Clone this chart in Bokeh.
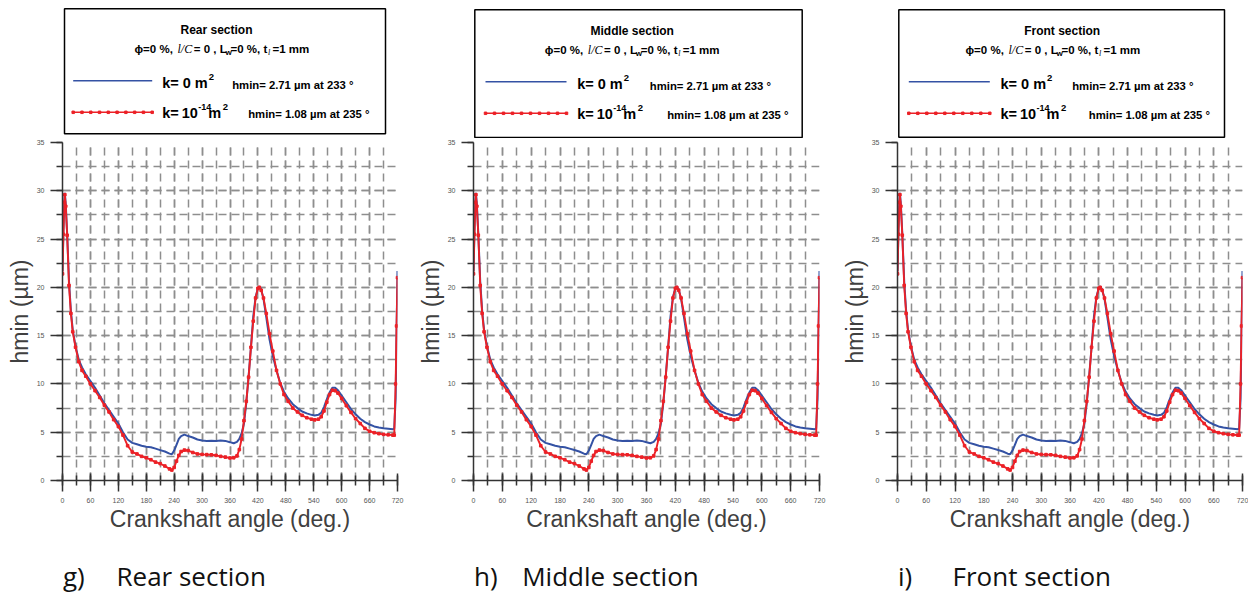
from bokeh.plotting import figure
from bokeh.layouts import row, column
from bokeh.models import Range1d, SingleIntervalTicker
from bokeh.core.properties import value
from bokeh.embed import file_html
from bokeh.resources import INLINE

# ---------------- data ----------------
angle = [0, 2, 4, 5, 7, 10, 14, 18, 22, 28, 35, 42, 50, 60, 70, 80, 90, 100, 110, 120,
         130, 140, 150, 160, 170, 180, 190, 200, 210, 220, 230, 235, 240, 245, 250, 255,
         262, 270, 280, 290, 300, 310, 320, 330, 340, 350, 360, 368, 375, 380, 385, 390,
         395, 400, 405, 410, 415, 420, 423, 427, 432, 438, 445, 452, 460, 468, 476, 485,
         495, 505, 515, 525, 535, 542, 550, 556, 562, 568, 574, 580, 586, 592, 600, 610,
         620, 630, 640, 650, 660, 670, 680, 690, 700, 710, 713, 716, 718, 720]

hmin_k0 = [21.7, 26.0, 29.0, 29.8, 28.6, 25.6, 20.6, 17.6, 15.6, 13.9,
           12.5, 11.7, 11.0, 10.3, 9.6, 8.8, 8.0, 7.3, 6.6, 5.9,
           5.0, 4.25, 3.9, 3.75, 3.6, 3.5, 3.45, 3.3, 3.15, 3.0,
           2.78, 2.72, 3.1, 3.7, 4.3, 4.6, 4.75, 4.6, 4.45, 4.25,
           4.15, 4.1, 4.12, 4.1, 4.15, 4.1, 3.97, 3.86, 4.0, 4.3,
           4.9, 5.9, 8.0, 10.8, 13.8, 17.0, 19.0, 19.9, 20.1, 19.8,
           18.8, 16.9, 14.6, 12.9, 11.4, 10.1, 9.2, 8.5, 7.9, 7.5,
           7.15, 6.95, 6.8, 6.73, 6.8, 7.0, 7.6, 8.4, 9.1, 9.6,
           9.6, 9.35, 8.8, 8.1, 7.4, 6.85, 6.4, 6.05, 5.8, 5.6,
           5.48, 5.4, 5.35, 5.3, 5.4, 8.5, 15.5, 21.7]

hmin_k14 = [21.4, 25.5, 28.8, 29.6, 28.4, 25.4, 20.2, 17.3, 15.4, 13.8,
            12.3, 11.4, 10.8, 10.0, 9.3, 8.6, 7.8, 7.1, 6.3, 5.6,
            4.7, 3.6, 2.95, 2.75, 2.5, 2.35, 2.15, 1.9, 1.75, 1.5,
            1.2, 1.08, 1.35, 2.0, 2.6, 3.0, 3.15, 3.1, 2.9, 2.75,
            2.7, 2.68, 2.66, 2.6, 2.5, 2.42, 2.33, 2.35, 2.55, 3.2,
            4.3, 6.2, 8.2, 10.7, 13.8, 16.5, 18.9, 19.9, 20.0, 19.7,
            18.9, 17.3, 15.2, 13.4, 11.4, 10.0, 8.9, 8.2, 7.5, 7.1,
            6.75, 6.5, 6.35, 6.28, 6.35, 6.6, 7.2, 8.1, 8.9, 9.35,
            9.3, 9.05, 8.5, 7.75, 7.05, 6.4, 5.9, 5.4, 5.1, 4.95,
            4.85, 4.78, 4.73, 4.7, 4.7, 10.0, 16.0, 21.0]

sections = ["Rear section", "Middle section", "Front section"]
caption_tags = ["g)", "h)", "i)"]
note_k0 = "hmin= 2.71 µm at 233  °"
note_k14 = "hmin= 1.08 µm at 235 °"
x_label = "Crankshaft angle (deg.)"
y_label = "hmin (µm)"

BLUE = "#3452a4"
RED = "#ec2127"
GRID = "#8e8e8e"
AXIS = "#333333"

# ---------------- geometry per panel (pixels) ----------------
col_w = [411, 424, 413]
BL = 62                      # left border (frame starts 62 px into each column)
frame_w = [335, 346, 345]
# legend box, relative to frame left / layout top: left, right, top, bottom
box = [(2.0, 323.0, 8.3, 133.3), (1.3, 328.7, 9.3, 137.0), (1.3, 327.0, 9.3, 136.7)]
title_dx = [152, 157.4, 163.4]
line2_dx = [70, 70, 66.7]
sample_x = [(8.7, 87.7), (10.7, 91.7), (10, 91)]
k_dx = [97.7, 102.4, 101.7]
note_dx = [167.7, 175, 173.4]
note2_dx = [183.7, 192.4, 190]
cap_x = [(0.5, 54), (0.5, 48.7), (0.5, 55)]

LEG_H = 138
MAIN_H = 402
CAP_H = 52


def txt(p, x, y, s, size, style="bold", font="Liberation Sans", align="left",
        baseline="middle", color="black"):
    p.text(x=[x], y=[y], text=[s], text_font=value(font), text_font_size=f"{size}px",
           text_font_style=style, text_align=align, text_baseline=baseline,
           text_color=color)


def blank_fig(w, h, fw, rb):
    f = figure(width=w, height=h, x_range=Range1d(0, fw), y_range=Range1d(h, 0),
               x_axis_type=None, y_axis_type=None, toolbar_location=None,
               output_backend="svg", min_border_left=BL, min_border_right=rb,
               min_border_top=0, min_border_bottom=0)
    f.outline_line_color = None
    f.grid.visible = False
    return f


panels = []
for i in range(3):
    W = col_w[i]
    rb = W - BL - frame_w[i]
    # ---------- legend box ----------
    lg = blank_fig(W, LEG_H, frame_w[i], rb)
    l, r, t, b = box[i]
    lg.quad(left=[l], right=[r], top=[t], bottom=[b], fill_color=None,
            line_color="black", line_width=1.5)
    txt(lg, l + title_dx[i], t + 20.7, sections[i], 12, align="center")
    x0 = l + line2_dx[i]
    y2 = t + 40.3
    txt(lg, x0, y2, "ϕ=0 %,", 11.5)
    txt(lg, x0 + 43, y2, "l/C", 12, style="italic", font="Liberation Serif")
    txt(lg, x0 + 59.3, y2, "= 0 , L", 11.5)
    txt(lg, x0 + 91, y2 + 3.5, "w", 8)
    txt(lg, x0 + 96, y2, "=0 %, t", 11.5)
    txt(lg, x0 + 133.5, y2 + 3.5, "l", 8, style="italic", font="Liberation Serif")
    txt(lg, x0 + 138, y2, "=1 mm", 11.5)
    sx0, sx1 = sample_x[i]
    # blue sample
    lg.line(x=[l + sx0, l + sx1], y=[t + 72, t + 72], line_color=BLUE, line_width=1.6)
    txt(lg, l + k_dx[i], t + 74, "k= 0 m", 14.5)
    txt(lg, l + k_dx[i] + 46.5, t + 68.5, "2", 9.5)
    txt(lg, l + note_dx[i], t + 76, note_k0, 11.3)
    # red sample
    lg.line(x=[l + sx0, l + sx1], y=[t + 103.5, t + 103.5], line_color=RED, line_width=1.6)
    nmk = 10
    mx = [l + sx0 + (sx1 - sx0) * j / (nmk - 1) for j in range(nmk)]
    lg.scatter(x=mx, y=[t + 103.5] * nmk, marker="square", size=2.5, color=RED)
    txt(lg, l + k_dx[i], t + 104, "k=", 14.5)
    txt(lg, l + k_dx[i] + 19.5, t + 104, "10", 14.5)
    txt(lg, l + k_dx[i] + 36, t + 98, "-14", 9)
    txt(lg, l + k_dx[i] + 46, t + 104, "m", 14.5)
    txt(lg, l + k_dx[i] + 60.5, t + 98.5, "2", 9.5)
    txt(lg, l + note2_dx[i], t + 105, note_k14, 11.3)

    # ---------- main plot ----------
    p = figure(width=W, height=MAIN_H, x_range=Range1d(0, 720), y_range=Range1d(0, 35),
               toolbar_location=None, output_backend="svg",
               min_border_left=BL, min_border_right=rb,
               min_border_top=4, min_border_bottom=60)
    p.outline_line_color = None
    p.xaxis.ticker = SingleIntervalTicker(interval=60, num_minor_ticks=2)
    p.yaxis.ticker = SingleIntervalTicker(interval=5, num_minor_ticks=2)
    for g in (p.xgrid, p.ygrid):
        g.grid_line_color = GRID
        g.grid_line_width = 1.5
        g.grid_line_dash = "8 5"
        g.minor_grid_line_color = GRID
        g.minor_grid_line_width = 1.5
        g.minor_grid_line_dash = "8 5"
    for ax in (p.xaxis, p.yaxis):
        ax.axis_line_color = AXIS
        ax.axis_line_width = 1.5
        ax.major_tick_line_color = AXIS
        ax.major_tick_line_width = 1.5
        ax.minor_tick_line_color = AXIS
        ax.minor_tick_line_width = 1.5
        ax.major_label_text_font = "Liberation Sans"
        ax.major_label_text_font_size = "7px"
        ax.major_label_text_color = "#555555"
        ax.axis_label_text_font = "Liberation Sans"
        ax.axis_label_text_font_size = "23px"
        ax.axis_label_text_font_style = "normal"
        ax.axis_label_text_color = "#404040"
    p.xaxis.major_tick_in = 7
    p.xaxis.major_tick_out = 11
    p.xaxis.minor_tick_in = 5
    p.xaxis.minor_tick_out = 5
    p.xaxis.major_label_standoff = 6
    p.xaxis.axis_label_standoff = 0
    p.yaxis.major_tick_in = 0
    p.yaxis.major_tick_out = 12
    p.yaxis.minor_tick_in = 0
    p.yaxis.minor_tick_out = 6
    p.yaxis.major_label_standoff = 6
    p.yaxis.axis_label_standoff = 1
    p.xaxis.axis_label = x_label
    p.yaxis.axis_label = y_label

    p.line(angle, hmin_k0, line_color=BLUE, line_width=2.0)
    p.line(angle, hmin_k14, line_color=RED, line_width=1.9)
    p.scatter(angle, hmin_k14, marker="square", size=2.6, color=RED)

    # ---------- caption ----------
    cp = blank_fig(W, CAP_H, frame_w[i], rb)
    txt(cp, cap_x[i][0], 35, caption_tags[i], 26, style="normal", font="Open Sans",
        color="#111111")
    txt(cp, cap_x[i][1], 35, sections[i], 26, style="normal", font="Open Sans",
        color="#111111")

    panels.append(column(lg, p, cp, spacing=0))

layout = row(*panels, spacing=0)
open("out.html", "w").write(file_html(layout, INLINE))
